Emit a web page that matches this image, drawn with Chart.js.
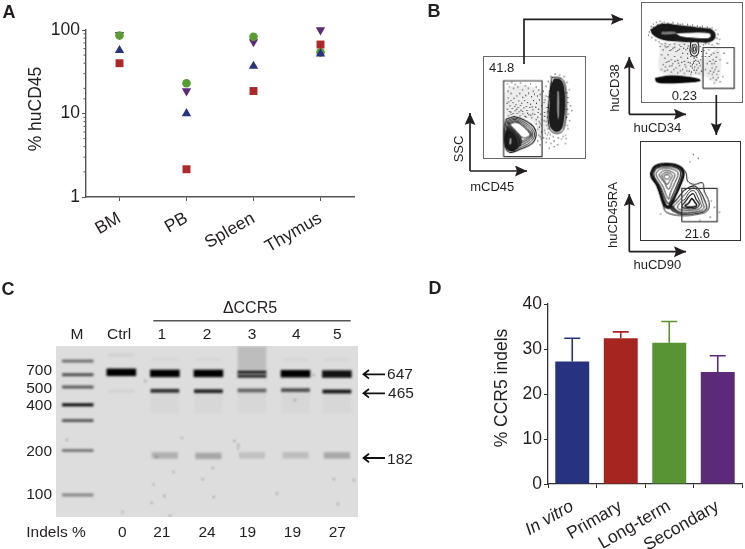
<!DOCTYPE html>
<html>
<head>
<meta charset="utf-8">
<title>CCR5 figure</title>
<script src="https://cdn.jsdelivr.net/npm/chart.js@4"></script>
<style>
html, body { margin: 0; padding: 0; background: #fff; }
#page { position: relative; width: 745px; height: 549px; overflow: hidden; font-family: "Liberation Sans", Arial, sans-serif; color: #231f20; filter: blur(0.3px); background: #fff; }
canvas { position: absolute; }
.flow { box-sizing: content-box; }
.note { position: absolute; white-space: nowrap; line-height: 1; }
svg { position: absolute; left: 0; top: 0; }
</style>
</head>
<body>
<div id="page">
  <canvas id="chartA" style="left:0;top:0"></canvas>
  <canvas id="chartC" style="left:0;top:275px"></canvas>
  <canvas id="chartD" style="left:420px;top:275px"></canvas>
  <canvas id="flow1" class="flow" style="left:483px;top:56px;border:1.4px solid #6a6a6a"></canvas>
  <canvas id="flow2" class="flow" style="left:641px;top:2px;border:1.4px solid #6a6a6a"></canvas>
  <canvas id="flow3" class="flow" style="left:640px;top:141px;border:1.4px solid #333"></canvas>
  <svg width="745" height="549">
    <defs>
      <marker id="head" markerUnits="userSpaceOnUse" markerWidth="13" markerHeight="12" refX="12" refY="5.5" orient="auto">
        <path d="M0,0 L12,5.5 L0,11 L2,5.5 Z" fill="#231f20"/>
      </marker>
    </defs>
    <g fill="none" stroke="#231f20" stroke-width="1.7">
      <path d="M524,64 V19.3 H623" marker-end="url(#head)"/>
      <path d="M716.3,95 V135" marker-end="url(#head)"/>
      <path d="M470,171 H527" marker-end="url(#head)"/>
      <path d="M470,171 V113" marker-end="url(#head)"/>
      <path d="M629.3,114.3 V57" marker-end="url(#head)"/>
      <path d="M629.3,114.3 H686" marker-end="url(#head)"/>
      <path d="M629.3,251.7 V194" marker-end="url(#head)"/>
      <path d="M629.3,251.7 H686" marker-end="url(#head)"/>
    </g>
    <g fill="none" stroke="#111" stroke-width="1.8">
      <path d="M385,374.3 H364 M369,370 L363.5,374.3 L369,378.6"/>
      <path d="M385,393.3 H364 M369,389 L363.5,393.3 L369,397.6"/>
      <path d="M385,458 H364 M369,453.7 L363.5,458 L369,462.3"/>
    </g>
    <path d="M153.3,320.7 H350.7" stroke="#555" stroke-width="1.5"/>
  </svg>
</div>
<script>
// Panel A, % huCD45 per tissue
var tissues = ['BM', 'PB', 'Spleen', 'Thymus'];
var redMice = [40, 2.15, 18.6, 67];
var blueMice = [57, 10, 37, 52];
var greenMice = [86, 23, 83, 54];
var purpleMice = [88, 18.6, 72, 100];
var logLabels = [1, 10, 100];

// Panel D, % CCR5 indels
var groups = ['In vitro', 'Primary', 'Long-term', 'Secondary'];
var indels = [27.2, 32.4, 31.4, 24.9];
var indelsUpper = [32.4, 33.8, 36.1, 28.5];
var groupColors = ['#27337f', '#a62521', '#589433', '#5b2a78'];

// Panel C, gel. x is lane position, y is % of the run from the top of the gel
var laneNames = ['M', 'Ctrl', '1', '2', '3', '4', '5'];
var laneTicks = [0.48, 1.45, 2.43, 3.47, 4.5, 5.52, 6.46];
var lanes = [0.5, 1.5, 2.5, 3.5, 4.5, 5.5, 6.45];
var indelNames = ['Indels %', '0', '21', '24', '19', '19', '27'];
var indelTicks = [0, 1.52, 2.43, 3.47, 4.4, 5.43, 6.46];
var sizeNames = ['700', '500', '400', '200', '100'];
var sizeTicks = [14.5, 24.8, 35, 61.9, 87.1];
var ladderLanes = [0.5, 0.5, 0.5, 0.5, 0.5, 0.5, 0.5];
var ladderY = [8.8, 16.8, 24, 34.4, 43.6, 61.1, 87.1];
var ladderSignal = [0.5, 0.65, 0.6, 0.98, 0.6, 0.45, 0.4];
var lane647Lanes = [1.5, 2.5, 3.5, 5.5, 6.45];
var lane647Y = [15.4, 16, 16, 16.2, 16.4];
var lane647Signal = [1, 1, 1, 1, 0.92];
var doubletLanes = [4.5, 4.5];
var doubletY = [15.3, 17.6];
var doubletSignal = [0.9, 0.85];
var lane465Y = [26.2, 26.4, 26, 25.8, 26.6];
var lane465Signal = [0.8, 0.85, 0.55, 0.65, 0.92];
var lane182Y = [64, 64.3, 64, 63.9, 64];
var lane182Signal = [0.2, 0.24, 0.12, 0.14, 0.24];
var wellLanes = [4.5];
var wellY = [7];
var wellSignal = [0.14];
var faintLanes = [1.5, 1.5, 2.5, 3.5, 5.5, 6.45];
var faintY = [5.3, 26.4, 8, 8, 8, 8];
var faintSignal = [0.06, 0.05, 0.03, 0.03, 0.03, 0.03];
var smearLanes = [2.5, 3.5, 4.5, 5.5, 6.45];
var smearY = [33, 33, 33, 33, 33];
var smearSignal = [0.025, 0.025, 0.025, 0.025, 0.025];
var gelSpecks = [[0.25,55],[2.24,80.9],[2.49,87.7],[2.2,91.6],[4.1,55.5],[4.19,58],[4.18,60],[3.6,71.3],[3.37,77.9],[6.47,92.4],
  [5.07,86.3],[1.53,97],[2.62,99.4],[5.49,31.6],[3.62,88.3],[2.05,20.5],[2.89,53.7],[2.31,64.8],[6.38,77.9],[2.7,73.6],[5.92,17],[6.84,78.5]];

// Panel B, flow plots, read in plot channels
var f1Gate = [[60,4],[178,4],[178,237],[60,237],[60,4]];
var f1Fog = [[66,128],[66,205],[100,222],[165,212],[195,170],[192,90],[170,60],[155,105],[100,130]];
var f1Halo = [[208,248],[238,244],[250,220],[253,168],[250,112],[238,80],[212,78],[198,100],[198,168]];
var f1Right = [[215,243],[235,240],[245,218],[248,168],[245,118],[235,86],[215,83],[202,103],[202,168],[205,218]];
var f1Slit = [[225,205],[229,205],[230,140],[228,118],[225,140]];
var f1Left1 = [[68,120],[95,127],[125,116],[152,96],[160,70],[147,44],[110,26],[80,17],[66,31],[61,78]];
var f1Left2 = [[72,116],[96,123],[123,111],[147,92],[155,70],[142,48],[110,31],[84,22],[70,35],[65,78]];
var f1Left3 = [[75,113],[96,119],[121,107],[143,89],[150,70],[138,52],[108,36],[87,27],[74,39],[69,78]];
var f1Left4 = [[77,110],[96,115],[119,103],[139,86],[146,70],[134,55],[106,42],[90,33],[78,44],[73,78]];
var f1Left5 = [[79,107],[97,112],[117,100],[136,84],[143,70],[130,58],[106,48],[94,40],[82,50],[77,78]];
var f1Core = [[80,105],[100,109],[120,97],[135,82],[141,70],[122,62],[104,74],[95,84],[86,92]];
var f1Grey1 = [[72,96],[84,96],[97,84],[112,66],[114,44],[102,30],[86,22],[70,28],[64,58]];
var f1Grey2 = [[72,90],[83,90],[95,79],[108,62],[110,44],[99,30],[85,24],[71,30],[66,58]];
var f1Peak = [[73,82],[80,82],[90,72],[99,58],[101,42],[94,29],[84,24],[73,32],[68,58]];
var f1PeakSlit = [[80,62],[83,60],[82,42],[79,42]];
var f1Dots = [[72,228],[78,219],[85,232],[91,214],[74,205],[83,198],[96,226],[104,218],[112,230],[118,209],[127,222],[136,214],[143,228],[151,205],[160,218],[168,209],[172,195],[164,190],[155,196],[146,188],[137,199],[128,192],[119,186],[110,198],[101,190],[92,183],[83,176],[74,184],[71,168],[80,160],[89,170],[98,164],[107,175],[116,168],[125,176],[134,170],[143,165],[152,176],[161,168],[170,178],[176,160],[168,150],[159,156],[150,148],[141,155],[132,146],[123,154],[114,147],[105,155],[96,145],[87,152],[78,143],[72,150],[75,130],[84,134],[93,128],[102,137],[111,130],[120,136],[129,126],[138,133],[147,124],[156,134],[165,126],[174,135],[178,118],[169,112],[160,105],[170,95],[176,80],[168,70],[175,58],[165,52],[172,40],
  [182,205],[190,190],[184,170],[193,155],[186,140],[195,125],[184,115],[192,100],[186,85],[194,70],[183,62],[190,48],[200,60],[205,45],[215,52],[226,40],[238,58],[250,70],[258,90],[263,115],[259,135],[266,160],[258,185],[262,210],[255,232],[246,250],[232,255],[218,258],[205,250],[197,235],[190,220],[270,145],[250,45],[215,35],[200,30],
  [76,172],[94,158],[112,161],[130,158],[148,157],[166,140],[150,136],[134,138],[118,143],[100,150],[82,141],[90,137],[108,142],[126,128],[144,132],[160,118],[172,106],[165,88],[158,80],[172,66],[176,100],[187,178],[186,128],[190,112],[188,76],[192,60],[198,78],[196,90],[198,112],[195,142],[199,165],[196,188],[200,205],[204,228],[212,240],[256,100],[256,150],[255,200],[252,60],[243,66],[228,62],[212,66],[203,72],[258,170],[254,125]];

var f2Gate = [[187,42],[283,42],[283,167],[187,167],[187,42]];
var f2Fog = [[55,180],[150,178],[180,130],[235,165],[232,60],[190,80],[60,90]];
var f2Band = [[27,222],[59,239],[119,234],[179,227],[217,220],[224,197],[204,184],[179,184],[154,184],[109,187],[64,192],[34,207]];
var f2BandCore = [[99,212],[150,214],[205,213],[212,205],[205,195],[170,195],[120,200]];
var f2BandLine = [[60,216],[100,216],[105,210],[60,208]];
var f2Stem1 = [[150,184],[170,184],[174,160],[170,145],[155,142],[148,155]];
var f2Stem2 = [[155,176],[166,176],[168,160],[165,150],[157,149],[153,158]];
var f2Stem3 = [[158,168],[163,168],[163,158],[158,156]];
var f2Blob = [[41,73],[80,80],[130,78],[175,70],[178,65],[130,60],[75,58],[45,62]];
var f2Dots = [[22,215],[28,232],[35,240],[44,245],[55,248],[68,246],[80,243],[95,244],[110,241],[125,240],[140,238],[155,236],[170,234],[185,232],[200,230],[215,228],[226,222],[233,208],[238,192],[230,180],[20,205],[30,198],[42,190],[52,184],[60,178],[72,180],[85,176],[100,178],[115,175],[130,177],[142,172],[215,175],[222,168],
  [55,170],[65,160],[75,168],[85,158],[95,165],[105,155],[115,162],[125,150],[135,160],[140,148],[60,145],[70,135],[80,145],[90,130],[100,140],[110,128],[120,138],[130,125],[140,135],[148,120],[65,115],[75,122],[85,110],[95,118],[105,105],[115,112],[125,100],[135,108],[145,95],[155,105],[160,125],[165,90],[150,85],[70,95],[90,92],[110,90],[130,88],[60,100],
  [190,158],[198,150],[205,160],[212,145],[220,150],[228,138],[218,130],[208,125],[222,118],[215,105],[228,108],[220,92],[230,85],[218,75],[228,68],[222,58],[240,62],[195,140],[200,118],[195,100],[205,88],[210,70],[252,150],[262,120],[240,130],[235,95],[248,78],
  [160,135],[165,128],[158,120],[168,115],[162,108],[155,115],[172,125],
  [70,172],[80,170],[90,160],[100,168],[110,158],[120,170],[128,165],[140,165],[148,158],[150,140],[158,145],[168,138],[176,120],[172,105],[168,98],[178,112],[160,98],[150,110],[142,122],[132,115],[122,122],[112,120],[102,125],[92,112],[82,125],[72,108],[78,98],[98,100],[118,96],[138,96],[152,92],[175,88],[182,95],[180,130],[184,140],[182,155],[178,170],[188,175],[195,178],[205,178],[34,230],[48,238],[62,243],[88,240],[118,238],[148,232],[178,230],[208,226],[222,212],[230,196],[235,178],[26,222],[206,140],[214,118],[224,100],[210,95],[216,85],[234,75],[226,125],[232,152]];

var f3Gate = [[125,56],[233,56],[233,158],[125,158],[125,56]];
var f3Outer = [[28,205],[41,227],[78,235],[118,227],[138,205],[143,180],[163,170],[188,175],[193,150],[208,115],[203,90],[178,80],[123,75],[78,85],[68,105],[48,165],[31,190]];
var f3Left0 = [[31,205],[43,226],[78,233],[116,226],[132,205],[122,170],[104,130],[88,98],[72,104],[50,165],[34,190]];
var f3Left1 = [[34,205],[45,223],[78,230],[113,223],[127,205],[117,170],[100,130],[84,104],[75,110],[54,165],[38,190]];
var f3Left2 = [[38,204],[48,220],[78,226],[110,220],[122,205],[112,172],[96,135],[86,112],[78,118],[58,165],[42,190]];
var f3Left3 = [[45,203],[55,215],[78,220],[104,214],[114,204],[104,176],[90,145],[84,125],[66,165],[50,190]];
var f3Left4 = [[55,200],[65,210],[78,213],[95,208],[104,200],[95,178],[84,155],[72,175],[60,190]];
var f3Left5 = [[62,198],[72,205],[80,206],[90,203],[96,197],[88,182],[80,170],[70,184]];
var f3Left6 = [[70,197],[78,200],[86,198],[88,192],[80,186],[72,190]];
var f3Low1 = [[78,112],[90,96],[115,84],[125,80],[110,92],[95,108],[85,125]];
var f3Right1 = [[130,150],[145,160],[165,165],[180,150],[195,120],[200,95],[178,84],[125,80],[100,88],[90,100],[110,125]];
var f3Right2 = [[135,140],[150,155],[165,158],[178,143],[188,115],[192,98],[175,89],[130,85],[105,92],[100,102],[118,122]];
var f3Right3 = [[135,125],[150,148],[163,150],[172,135],[182,112],[185,102],[170,94],[130,92],[112,98],[120,115]];
var f3Right4 = [[148,135],[160,142],[168,125],[178,108],[165,98],[135,98],[125,103],[136,118]];
var f3Right5 = [[150,120],[156,127],[165,115],[170,106],[160,102],[140,102],[135,106],[145,112]];
var f3Dots = [[175,250],[160,262],[150,240],[215,120],[225,100],[240,85],[212,70],[60,80],[180,60]];

Chart.defaults.font.family = '"Liberation Sans", Arial, sans-serif';
Chart.defaults.color = '#231f20';
Chart.defaults.animation = false;
Chart.defaults.plugins.legend.display = false;
Chart.defaults.plugins.tooltip.enabled = false;

function sizeCanvas(id, w, h) {
    var c = document.getElementById(id);
    c.width = w;
    c.height = h;
    return c;
}

// Chart A
var minorTicks = {
    id: 'minorTicks',
    afterDraw: function (chart) {
        var y = chart.scales.y, ctx = chart.ctx;
        ctx.save();
        ctx.strokeStyle = '#555';
        ctx.lineWidth = 1;
        y.ticks.forEach(function (t) {
            if (logLabels.indexOf(t.value) >= 0) return;
            var py = y.getPixelForValue(t.value);
            ctx.beginPath();
            ctx.moveTo(y.right - 2.5, py);
            ctx.lineTo(y.right, py);
            ctx.stroke();
        });
        ctx.restore();
    }
};

var mouseSet = function (values, color, style, radius, rotation) {
    return {
        data: values, pointStyle: style, pointRadius: radius, pointRotation: rotation || 0,
        pointBackgroundColor: color, pointBorderColor: color, pointBorderWidth: 0, showLine: false, clip: false
    };
};

new Chart(sizeCanvas('chartA', 380, 270), {
    type: 'line',
    data: {
        labels: tissues,
        datasets: [
            mouseSet(redMice, '#b0272b', 'rect', 5.6),
            mouseSet(blueMice, '#27337f', 'triangle', 5.4),
            mouseSet(greenMice, '#589c33', 'circle', 4.3),
            mouseSet(purpleMice, '#5b2a78', 'triangle', 5.4, 180)
        ]
    },
    options: {
        responsive: false,
        layout: { autoPadding: false, padding: { top: 30, right: 26, left: 0, bottom: 0 } },
        scales: {
            x: {
                afterFit: function (s) { s.height = 73; },
                offset: true,
                border: { color: '#555', width: 1.4 },
                grid: { drawOnChartArea: false, tickLength: 4, tickColor: '#555' },
                ticks: { font: { size: 17.5 }, minRotation: 30, maxRotation: 30, padding: 7, color: '#231f20' }
            },
            y: {
                type: 'logarithmic', min: 1, max: 100,
                afterFit: function (s) { s.width = 86; },
                border: { color: '#555', width: 1.4 },
                grid: {
                    drawOnChartArea: false, tickLength: 4,
                    tickColor: function (c) { return logLabels.indexOf(c.tick.value) >= 0 ? '#555' : 'transparent'; }
                },
                ticks: {
                    font: { size: 17.5 }, padding: 2, autoSkip: false, color: '#231f20',
                    callback: function (v) { return logLabels.indexOf(v) >= 0 ? String(v) : ''; }
                }
            }
        }
    },
    plugins: [minorTicks]
});

// Chart D
var errorBars = {
    id: 'errorBars',
    afterDatasetsDraw: function (chart) {
        var x = chart.scales.x, y = chart.scales.y, ctx = chart.ctx;
        ctx.save();
        ctx.lineWidth = 1.6;
        indelsUpper.forEach(function (u, i) {
            var px = x.getPixelForValue(i), top = y.getPixelForValue(u), base = y.getPixelForValue(indels[i]);
            ctx.strokeStyle = groupColors[i];
            ctx.beginPath();
            ctx.moveTo(px, base);
            ctx.lineTo(px, top);
            ctx.moveTo(px - 8, top);
            ctx.lineTo(px + 8, top);
            ctx.stroke();
        });
        ctx.restore();
    }
};

new Chart(sizeCanvas('chartD', 325, 274), {
    type: 'bar',
    data: {
        labels: groups,
        datasets: [{ data: indels, backgroundColor: groupColors, categoryPercentage: 1, barPercentage: 0.7 }]
    },
    options: {
        responsive: false,
        layout: { autoPadding: false, padding: { top: 29, right: 3, left: 0, bottom: 0 } },
        scales: {
            x: {
                afterFit: function (s) { s.height = 65; },
                border: { color: '#333', width: 1.3 },
                grid: { drawOnChartArea: false, tickLength: 4, tickColor: '#333' },
                ticks: {
                    minRotation: 30, maxRotation: 30, padding: 8, color: '#231f20',
                    font: function (c) { return { size: 17.5, style: c.index === 0 ? 'italic' : 'normal' }; }
                }
            },
            y: {
                min: 0, max: 40,
                afterFit: function (s) { s.width = 128; },
                border: { color: '#333', width: 1.3 },
                grid: { drawOnChartArea: false, tickLength: 4, tickColor: '#333' },
                ticks: { stepSize: 10, font: { size: 17.5 }, padding: 2, color: '#231f20' }
            }
        }
    },
    plugins: [errorBars]
});

// Chart C
var gelLook = {
    id: 'gelLook',
    beforeDraw: function (chart) {
        var a = chart.chartArea, ctx = chart.ctx;
        ctx.save();
        ctx.fillStyle = '#dddddd';
        ctx.fillRect(a.left, a.top, a.right - a.left, a.bottom - a.top);
        ctx.restore();
    },
    beforeDatasetsDraw: function (chart) {
        chart.ctx.save();
        chart.ctx.filter = 'blur(0.9px)';
    },
    afterDatasetsDraw: function (chart) {
        chart.ctx.restore();
    }
};

function bandSets(laneList, ys, signals, halfWidth, thickness) {
    return ys.map(function (y, i) {
        var c = laneList[i];
        return {
            data: [{ x: c - halfWidth, y: y }, { x: c + halfWidth, y: y }],
            borderColor: 'rgba(0,0,0,' + signals[i] + ')',
            borderWidth: thickness, pointRadius: 0, showLine: true
        };
    });
}

var sampleLanes = lanes.slice(2);
var gelSets = [{
    data: gelSpecks.map(function (p) { return { x: p[0], y: p[1] }; }),
    pointRadius: 0.7, pointBackgroundColor: '#333', pointBorderWidth: 0, showLine: false
}]
    .concat(bandSets(ladderLanes, ladderY, ladderSignal, 0.36, 3))
    .concat(bandSets(lane647Lanes, lane647Y, lane647Signal, 0.34, 7.5))
    .concat(bandSets(doubletLanes, doubletY, doubletSignal, 0.33, 3.2))
    .concat(bandSets(sampleLanes, lane465Y, lane465Signal, 0.33, 3.8))
    .concat(bandSets(sampleLanes, lane182Y, lane182Signal, 0.3, 6.5))
    .concat(bandSets(faintLanes, faintY, faintSignal, 0.3, 3))
    .concat(bandSets(wellLanes, wellY, wellSignal, 0.33, 23))
    .concat(bandSets(smearLanes, smearY, smearSignal, 0.33, 22));

var pinTicks = function (list) {
    return function (s) { s.ticks = list.map(function (v) { return { value: v }; }); };
};
var pickName = function (list) {
    return function (v, i) { return list[i]; };
};

new Chart(sizeCanvas('chartC', 420, 274), {
    type: 'scatter',
    data: { datasets: gelSets },
    options: {
        responsive: false,
        layout: { autoPadding: false, padding: { right: 62 } },
        scales: {
            x: {
                type: 'linear', position: 'top', min: 0, max: 6.935,
                afterFit: function (s) { s.height = 71; },
                afterBuildTicks: pinTicks(laneTicks),
                border: { display: false }, grid: { display: false, drawTicks: false },
                ticks: { callback: pickName(laneNames), font: { size: 15.5 }, padding: 2, autoSkip: false, maxRotation: 0, color: '#231f20' }
            },
            xIndels: {
                type: 'linear', position: 'bottom', min: 0, max: 6.935,
                afterFit: function (s) { s.height = 32; },
                afterBuildTicks: pinTicks(indelTicks),
                border: { display: false }, grid: { display: false, drawTicks: false },
                ticks: { callback: pickName(indelNames), font: { size: 15.5 }, padding: 6, autoSkip: false, maxRotation: 0, color: '#231f20' }
            },
            y: {
                reverse: true, min: 0, max: 100,
                afterFit: function (s) { s.width = 56; },
                afterBuildTicks: pinTicks(sizeTicks),
                border: { display: false }, grid: { display: false, drawTicks: false },
                ticks: { callback: pickName(sizeNames), font: { size: 15.5 }, padding: 4, autoSkip: false, color: '#231f20' }
            }
        }
    },
    plugins: [gelLook]
});

// Flow plots
function ring(points, fill, stroke, width) {
    return {
        data: points.concat([points[0]]).map(function (p) { return { x: p[0], y: p[1] }; }),
        showLine: true, tension: 0.4, pointRadius: 0,
        fill: fill ? 'shape' : false, backgroundColor: fill || 'transparent',
        borderColor: stroke || 'transparent', borderWidth: width === undefined ? 0.9 : width
    };
}
function gate(points) {
    return {
        data: points.map(function (p) { return { x: p[0], y: p[1] }; }),
        showLine: true, tension: 0, pointRadius: 0, borderColor: '#333', borderWidth: 1.2, fill: false
    };
}
function dots(points) {
    return {
        data: points.map(function (p) { return { x: p[0], y: p[1] }; }),
        showLine: false, pointRadius: 0.6, pointBackgroundColor: '#000', pointBorderWidth: 0
    };
}

var softEdge = {
    id: 'softEdge',
    beforeDatasetsDraw: function (chart) {
        chart.ctx.save();
        chart.ctx.filter = 'blur(0.2px)';
    },
    afterDatasetsDraw: function (chart) {
        chart.ctx.restore();
    }
};

function flowChart(id, w, h, xMax, yMax, layers) {
    // first layer is painted first
    layers.forEach(function (d, i) { d.order = layers.length - i; });
    new Chart(sizeCanvas(id, w, h), {
        type: 'scatter',
        data: { datasets: layers },
        options: {
            responsive: false,
            layout: { autoPadding: false },
            scales: {
                x: { type: 'linear', display: false, min: 0, max: xMax },
                y: { type: 'linear', display: false, min: 0, max: yMax }
            }
        },
        plugins: [softEdge]
    });
}

flowChart('flow1', 103, 103, 310, 310, [
    ring(f1Fog, 'rgba(0,0,0,0.07)'), dots(f1Dots),
    ring(f1Halo, '#fff', '#111', 1), ring(f1Right, '#1c1c1c', '#111'), ring(f1Slit, '#aaa'),
    ring(f1Left1, '#fff', '#111', 1.1), ring(f1Left2, '#fff', '#111'), ring(f1Left3, '#fff', '#111'), ring(f1Left4, '#fff', '#111'), ring(f1Left5, '#fff', '#111'),
    ring(f1Core, '#fff', '#222'), ring(f1Grey1, '#666', '#111'), ring(f1Grey2, '#333', '#111'), ring(f1Peak, '#1c1c1c', '#111'), ring(f1PeakSlit, '#ddd'),
    gate(f1Gate)
]);
flowChart('flow2', 102, 101, 307, 304, [
    ring(f2Fog, 'rgba(0,0,0,0.08)'), dots(f2Dots),
    ring(f2Band, '#161616', '#111'), ring(f2BandCore, '#fff', '#222', 1.1), ring(f2BandLine, '#777'),
    ring(f2Stem1, '#fff', '#111', 1.1), ring(f2Stem2, '#bbb', '#111'), ring(f2Stem3, '#fff', '#111'),
    ring(f2Blob, '#080808', '#111'),
    gate(f2Gate)
]);
flowChart('flow3', 101, 100, 303, 300, [
    dots(f3Dots),
    ring(f3Outer, '#fff', '#111', 1),
    ring(f3Right1, '#fff', '#111', 1.1), ring(f3Right2, '#fff', '#111'), ring(f3Right3, '#fff', '#111'), ring(f3Right4, '#fff', '#111', 1.2), ring(f3Right5, '#fff', '#111', 1.6), ring(f3Low1, '#333'),
    ring(f3Left0, '#222', '#111', 1.4), ring(f3Left1, '#fff', '#111', 1.4), ring(f3Left2, '#fff', '#111', 1.2), ring(f3Left3, '#fff', '#111'), ring(f3Left4, '#fff', '#111'), ring(f3Left5, '#fff', '#111'), ring(f3Left6, '#fff', '#111'),
    gate(f3Gate)
]);

// Text that is not an axis tick
var notes = [
    ['A', 9, 12, 18, 0, 'bold'], ['B', 434, 11, 18, 0, 'bold'], ['C', 8, 289, 18, 0, 'bold'], ['D', 435, 288, 18, 0, 'bold'],
    ['% huCD45', 36, 109, 17.5, -90], ['% CCR5 indels', 502.3, 388.3, 17.5, -90],
    ['41.8', 501.7, 66.7, 13, 0], ['SSC', 457.7, 149, 13, -90], ['mCD45', 492.3, 185.7, 13, 0],
    ['0.23', 684.3, 95, 13, 0], ['huCD38', 614.3, 88.3, 13, -90], ['huCD34', 657.3, 127.3, 13, 0],
    ['21.6', 697.3, 232.7, 13, 0], ['huCD45RA', 611.7, 215, 13, -90], ['huCD90', 657.3, 264, 13, 0],
    ['ΔCCR5', 250, 308.3, 16, 0], ['647', 400, 374, 15.5, 0], ['465', 401, 393.3, 15.5, 0], ['182', 400, 459.3, 15.5, 0]
];
var page = document.getElementById('page');
notes.forEach(function (n) {
    var el = document.createElement('div');
    el.className = 'note';
    el.textContent = n[0];
    el.style.left = n[1] + 'px';
    el.style.top = n[2] + 'px';
    el.style.fontSize = n[3] + 'px';
    el.style.fontWeight = n[5] || 'normal';
    el.style.transform = 'translate(-50%,-50%) rotate(' + n[4] + 'deg)';
    page.appendChild(el);
});
</script>
</body>
</html>
